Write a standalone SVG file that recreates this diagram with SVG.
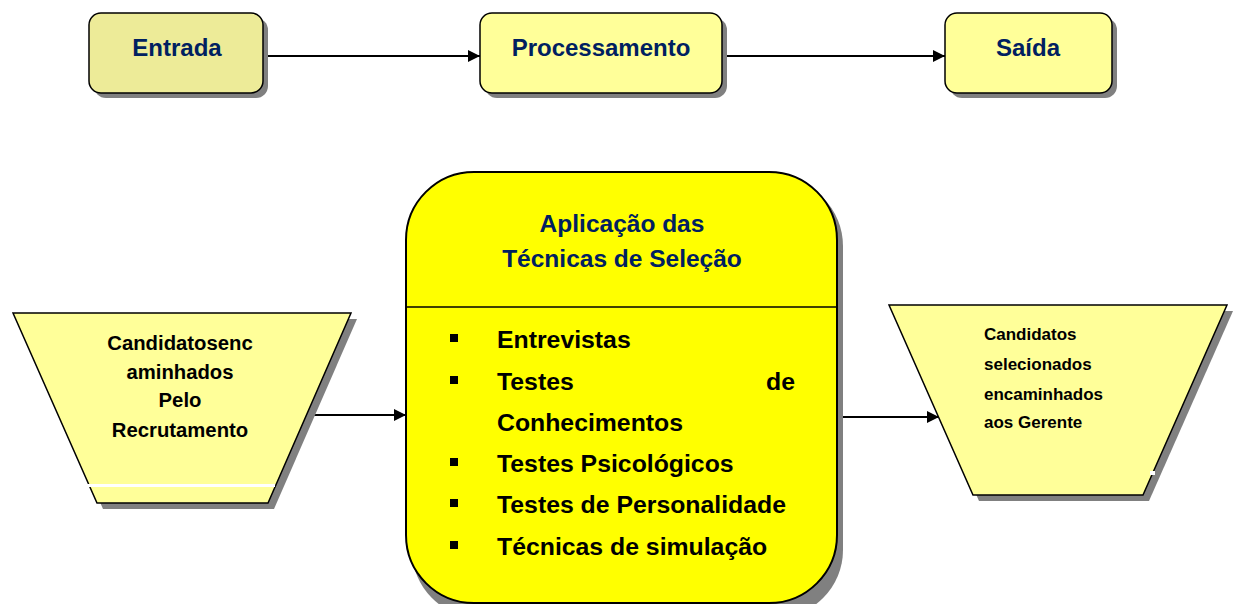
<svg xmlns="http://www.w3.org/2000/svg" width="1239" height="604" viewBox="0 0 1239 604">
<style>
.t{font-family:"Liberation Sans",Arial,sans-serif;font-weight:bold}
.navy{fill:#002060}
.blk{fill:#000}
.sh{fill:#808080}
.box{stroke:#000;stroke-width:1.5}
.ln{stroke:#000;stroke-width:2;fill:none}
</style>
<defs>
<marker id="arr" viewBox="0 0 10 10" refX="10" refY="5" markerWidth="16" markerHeight="12" markerUnits="userSpaceOnUse" orient="auto">
<path d="M0,0 L10,5 L0,10 Z" fill="#000"/>
</marker>
</defs>
<rect width="1239" height="604" fill="#fff"/>

<g id="connectors">
<line class="ln" x1="263" y1="56" x2="480" y2="56" marker-end="url(#arr)"/>
<line class="ln" x1="722" y1="56" x2="945" y2="56" marker-end="url(#arr)"/>
<line class="ln" x1="307" y1="415" x2="406" y2="415" marker-end="url(#arr)"/>
<line class="ln" x1="837" y1="417" x2="939" y2="417" marker-end="url(#arr)"/>
</g>

<g id="entrada">
<rect class="sh" x="94" y="18" width="174" height="80" rx="12"/>
<rect class="box" x="89" y="13" width="174" height="80" rx="12" fill="#EDEB98"/>
<text class="t navy" x="177" y="56" font-size="24" text-anchor="middle">Entrada</text>
</g>

<g id="processamento">
<rect class="sh" x="485" y="18" width="242" height="80" rx="12"/>
<rect class="box" x="480" y="13" width="242" height="80" rx="12" fill="#FFFF99"/>
<text class="t navy" x="601" y="56" font-size="24" text-anchor="middle">Processamento</text>
</g>

<g id="saida">
<rect class="sh" x="950" y="18" width="167" height="80" rx="12"/>
<rect class="box" x="945" y="13" width="167" height="80" rx="12" fill="#FFFF99"/>
<text class="t navy" x="1028" y="56" font-size="24" text-anchor="middle">Saída</text>
</g>

<g id="tecnicas">
<rect class="sh" x="412" y="178" width="431" height="440" rx="68"/>
<rect x="406" y="172" width="431" height="431" rx="68" fill="#FFFF00" stroke="#000" stroke-width="2"/>
<line x1="406" y1="307" x2="837" y2="307" stroke="#000" stroke-width="1.5"/>
<text class="t navy" x="622" y="232" font-size="24.5" text-anchor="middle">Aplicação das</text>
<text class="t navy" x="622" y="267" font-size="24.5" text-anchor="middle">Técnicas de Seleção</text>
<g class="blk">
<rect x="450" y="334" width="8" height="8"/>
<rect x="450" y="376" width="8" height="8"/>
<rect x="450" y="458" width="8" height="8"/>
<rect x="450" y="499" width="8" height="8"/>
<rect x="450" y="541" width="8" height="8"/>
</g>
<g class="t blk" font-size="24.8">
<text x="497" y="348">Entrevistas</text>
<text x="497" y="390">Testes</text>
<text x="795" y="390" text-anchor="end">de</text>
<text x="497" y="431">Conhecimentos</text>
<text x="497" y="472">Testes Psicológicos</text>
<text x="497" y="513">Testes de Personalidade</text>
<text x="497" y="555">Técnicas de simulação</text>
</g>
</g>

<g id="entrada-candidatos">
<polygon class="sh" points="19,319 357,319 274,509 103,509"/>
<polygon class="box" points="13,313 351,313 268,503 97,503" fill="#FFFF99"/>
<rect x="85" y="484" width="190" height="3" fill="#fff"/>
<g class="t blk" font-size="20.3" text-anchor="middle">
<text x="180" y="350">Candidatosenc</text>
<text x="180" y="379">aminhados</text>
<text x="180" y="407">Pelo</text>
<text x="180" y="437">Recrutamento</text>
</g>
</g>

<g id="saida-candidatos">
<polygon class="sh" points="895,311 1233,311 1149,501 979,501"/>
<polygon class="box" points="889,305 1227,305 1143,495 973,495" fill="#FFFF99"/>
<rect x="1150" y="471" width="5" height="4" fill="#fff"/>
<g class="t blk" font-size="17">
<text x="984" y="340">Candidatos</text>
<text x="984" y="370">selecionados</text>
<text x="984" y="400">encaminhados</text>
<text x="984" y="428">aos Gerente</text>
</g>
</g>
</svg>
